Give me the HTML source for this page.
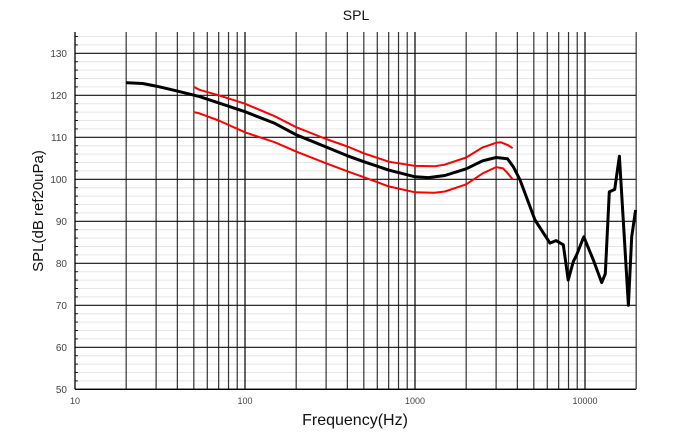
<!DOCTYPE html>
<html><head><meta charset="utf-8"><style>
html,body{margin:0;padding:0;background:#fff;}
svg{display:block;font-family:"Liberation Sans",sans-serif;}
</style></head><body>
<svg id="chart" width="675" height="436" viewBox="0 0 675 436" xmlns="http://www.w3.org/2000/svg">
<text x="356" y="20" font-size="14" text-anchor="middle" fill="#111">SPL</text>
<g id="grid"></g>
<g id="series"></g>
<g id="axes"></g>
<text x="355" y="425" font-size="16" text-anchor="middle" fill="#111">Frequency(Hz)</text>
<text transform="translate(43,211) rotate(-90)" font-size="15" text-anchor="middle" fill="#111">SPL(dB ref20uPa)</text>
</svg>
<script>
const yTicks = [50,60,70,80,90,100,110,120,130];
const xTickLabels = [10,100,1000,10000];
const blackFreq = [20,25,30,40,54,70,100,150,200,300,400,500,700,1000,1200,1500,2000,2500,3000,3500,3785,4150,5080,6220,6750,7450,7970,8530,8920,9840,11190,12540,13160,13900,14950,15930,17990,18830,19850];
const blackSpl  = [123,122.8,122.2,121,119.7,118.2,116.1,113.3,110.6,107.7,105.6,104.2,102.2,100.6,100.4,100.9,102.5,104.4,105.2,104.9,103,99.8,90.3,84.8,85.4,84.4,76,80.4,82,86.3,80.8,75.4,77.5,97,97.6,105.5,70,86.3,92.7];
const upperFreq = [50,54,70,100,150,200,300,400,500,700,1000,1300,1500,2000,2500,3000,3200,3500,3750];
const upperSpl  = [122,121.3,120,118,115,112.4,109.6,107.8,106.2,104.2,103.2,103.1,103.5,105.2,107.6,108.7,108.8,108.2,107.4];
const lowerFreq = [50,54,70,100,150,200,300,400,500,700,1000,1300,1500,2000,2500,3000,3300,3500,3750];
const lowerSpl  = [116,115.7,114,111.2,108.8,106.6,103.8,101.9,100.5,98.3,96.9,96.8,97.1,98.8,101.4,102.9,102.6,101.5,100];

const NS="http://www.w3.org/2000/svg";
const L=75,R=636,T=32,B=389.3;
function xs(f){return L+170*(Math.log10(f)-1);}
function ys(v){return B-(v-50)*4.2;}
function mk(tag,attrs,parent){const e=document.createElementNS(NS,tag);for(const k in attrs)e.setAttribute(k,attrs[k]);parent.appendChild(e);return e;}
const grid=document.getElementById('grid'),axes=document.getElementById('axes'),series=document.getElementById('series');
// minor horizontal grid
for(let v=52;v<136;v+=2){ if(v%10===0)continue;
  const l=mk('line',{x1:L,x2:R,y1:ys(v),y2:ys(v),stroke:'#e6e6e6','stroke-width':1},grid);
  
  
  const t=mk('line',{x1:L,x2:L+3,y1:ys(v),y2:ys(v),stroke:'#222','stroke-width':1},axes);
  
  
}
// vertical grid
for(let d=10;d<=10000;d*=10){for(let m=1;m<=9;m++){const f=d*m; if(f<20||f>20000)continue;
  const l=mk('line',{x1:xs(f),x2:xs(f),y1:T,y2:B,stroke:(m===1?'#000':'#333'),'stroke-width':1.2},grid);
  
  
}}
// major horizontal grid + labels
yTicks.forEach(v=>{
  const l=mk('line',{x1:L,x2:R,y1:ys(v),y2:ys(v),stroke:'#111','stroke-width':1.2},grid);
  
  
  const t=mk('text',{x:67,y:ys(v)+3.5,'font-size':10,'text-anchor':'end',fill:'#444'},axes);t.textContent=v;
  
  
});
xTickLabels.forEach(f=>{
  const t=mk('text',{x:xs(f),y:404,'font-size':9,'text-anchor':'middle',fill:'#444'},axes);t.textContent=f;
  
  
});
const ya=mk('line',{x1:L,x2:L,y1:T,y2:B,stroke:'#000','stroke-width':1.3},axes);


const xa=mk('line',{x1:L,x2:R,y1:B,y2:B,stroke:'#000','stroke-width':1.3},axes);


function line(fr,sp,color,w,name){
  const d=fr.map((f,i)=>(i?'L':'M')+xs(f).toFixed(1)+' '+ys(sp[i]).toFixed(1)).join(' ');
  const p=mk('path',{d:d,fill:'none',stroke:color,'stroke-width':w,'stroke-linejoin':'round'},series);
  
  
}
line(upperFreq,upperSpl,'#ff0000',2,'upper-limit-line');
line(lowerFreq,lowerSpl,'#ff0000',2,'lower-limit-line');
line(blackFreq,blackSpl,'#000',3,'spl-line');
</script>
</body></html>
